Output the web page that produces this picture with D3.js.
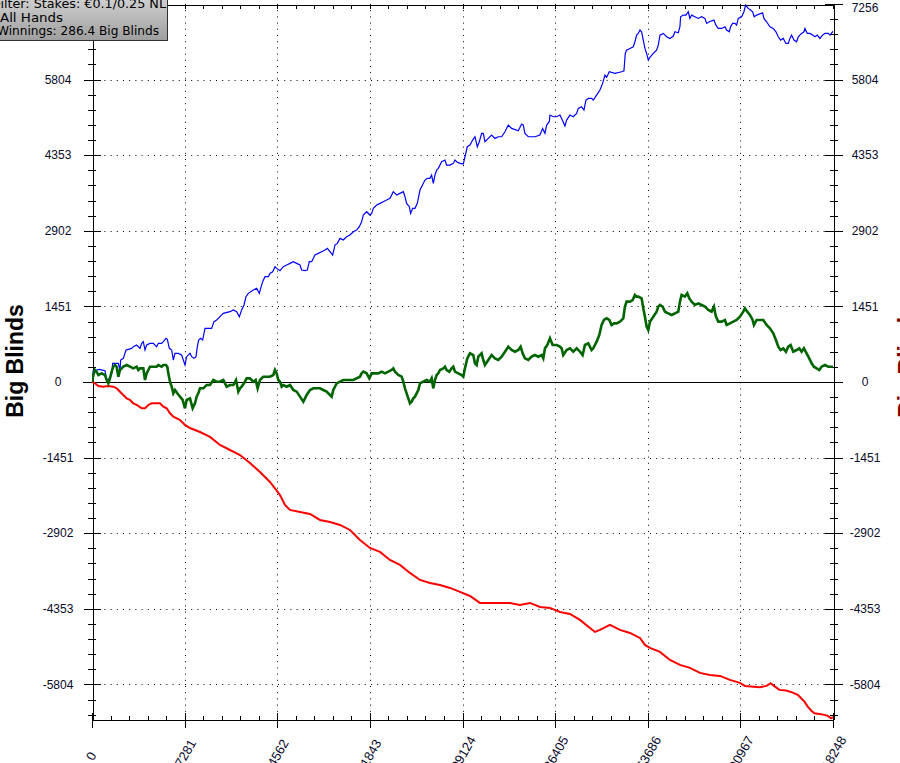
<!DOCTYPE html>
<html><head><meta charset="utf-8">
<script src="https://cdn.jsdelivr.net/npm/d3@7"></script>
<style>html,body{margin:0;padding:0;background:#fff;overflow:hidden}</style>
</head><body>
<svg id="c" width="900" height="763"></svg>
<script>
// ---------- DATA ----------
const xTickValues = [0, 27281, 54562, 81843, 109124, 136405, 163686, 190967, 218248];
const yTickValues = [-5804.8, -4353.6, -2902.4, -1451.2, 0, 1451.2, 2902.4, 4353.6, 5804.8, 7256];
const legendLines = ["Filter: Stakes: €0.1/0.25 NL", "All Hands", "Winnings: 286.4 Big Blinds"];
const axisTitle = "Big Blinds";

// [hands, big blinds]
const blueSeries = [[0,0],[393,230],[1374,230],[2160,243],[3829,218],[4320,38],[4810,38],[5792,166],[6087,358],[7755,358],[8246,230],[8443,422],[9228,454],[10013,614],[10701,627],[11682,646],[12173,678],[13155,710],[14137,646],[14627,742],[15118,774],[15609,614],[16100,710],[17082,742],[18063,742],[19045,678],[19536,742],[20518,742],[21008,774],[21794,838],[22186,819],[22775,646],[23463,614],[23954,422],[24444,550],[25426,550],[26408,518],[27389,326],[27880,486],[28862,550],[29353,486],[30040,454],[30629,486],[31022,678],[31414,806],[32003,838],[32592,806],[32985,934],[33280,1030],[35243,1030],[35930,1158],[36716,1190],[37697,1254],[38679,1318],[40642,1350],[41624,1382],[42606,1350],[43391,1254],[44078,1382],[44766,1478],[45355,1638],[46042,1702],[47514,1766],[48496,1798],[49281,1702],[49674,1798],[50263,1926],[50950,2021],[51932,2021],[52423,2085],[53208,2117],[53895,2213],[54386,2181],[55368,2137],[56350,2213],[57331,2245],[58313,2277],[59295,2309],[60276,2277],[61258,2245],[61749,2149],[62731,2137],[63418,2149],[64007,2309],[64694,2309],[65676,2437],[66657,2469],[67639,2501],[68621,2533],[69308,2565],[70093,2501],[70879,2437],[71566,2629],[72253,2661],[73039,2757],[74020,2725],[75002,2789],[75984,2821],[76965,2885],[77947,2917],[78732,2981],[79420,3077],[79910,3205],[80892,3269],[81874,3205],[82365,3237],[82856,3333],[83837,3397],[84819,3429],[85801,3461],[86782,3493],[87764,3525],[88746,3653],[89727,3589],[90709,3621],[91691,3653],[92182,3557],[92673,3429],[93458,3365],[93851,3237],[94440,3333],[95127,3333],[95814,3429],[96599,3685],[97090,3749],[98072,3877],[98759,3909],[99544,3909],[100035,3973],[100526,3813],[101017,3973],[101508,4069],[101999,4101],[102980,4228],[103962,4260],[104453,4164],[105435,4164],[106416,4196],[106907,4260],[107398,4228],[108380,4196],[109358,4184],[109849,4324],[110536,4516],[111321,4548],[112107,4644],[112794,4708],[113481,4516],[114070,4612],[114757,4772],[115248,4772],[115739,4612],[116720,4676],[117702,4740],[118684,4676],[119666,4708],[120647,4708],[121629,4804],[122611,4932],[123592,4868],[125556,4823],[126537,4951],[127028,4932],[127519,4772],[128501,4708],[130464,4708],[131937,4740],[132722,4868],[133409,4772],[133900,4932],[134686,4996],[134882,5124],[135864,5092],[136845,5092],[137827,5124],[138318,5060],[139300,4913],[139790,5028],[140772,5124],[141754,5092],[142736,5156],[143226,5252],[144208,5284],[144895,5220],[145484,5412],[146171,5444],[147153,5444],[147644,5412],[148626,5508],[149607,5604],[150393,5732],[151080,5892],[151571,5847],[152356,5956],[154025,5924],[155989,5956],[156676,5975],[157068,6307],[157461,6371],[158443,6403],[159424,6435],[159915,6531],[160406,6659],[160897,6691],[161388,6755],[161879,6723],[162370,6563],[162860,6403],[163351,6307],[163842,6180],[164333,6231],[165315,6307],[166296,6371],[166787,6467],[167278,6659],[168260,6691],[169241,6627],[170223,6595],[171205,6640],[171696,6723],[172677,6704],[173168,6819],[173365,7011],[174150,7043],[174935,7043],[175622,7107],[176113,6979],[176604,7043],[177586,7011],[178568,6979],[179549,7011],[180531,6979],[181022,6883],[181807,6915],[183182,6947],[183771,6851],[184458,6787],[185439,6787],[186421,6819],[186912,6755],[187697,6723],[188090,6819],[188679,6883],[189366,6883],[189857,6851],[190348,6979],[191330,7011],[192017,7107],[192508,7235],[193293,7171],[193980,7139],[194570,7107],[195060,7011],[195747,7043],[197514,7088],[197907,6979],[198692,6915],[199674,6819],[200656,6787],[201441,6723],[202128,6627],[202815,6563],[203601,6595],[204386,6499],[205073,6499],[205564,6595],[206055,6659],[206742,6563],[207528,6531],[208018,6627],[208999,6691],[209687,6723],[209981,6787],[210669,6691],[211454,6691],[212239,6659],[212926,6627],[213613,6659],[214399,6595],[215184,6659],[215871,6691],[216853,6691],[217345,6659],[218130,6723],[218248,6720]];

const greenSeries = [[0,0],[393,134],[884,230],[1374,198],[1865,134],[2847,166],[3829,134],[4320,38],[4810,-26],[5301,70],[5792,198],[6283,294],[6774,326],[7265,294],[7756,102],[8246,230],[8737,262],[9228,294],[10210,326],[11191,294],[12173,262],[13155,294],[13646,230],[14137,262],[15118,262],[15609,38],[16100,166],[16591,230],[17082,294],[18063,294],[19045,294],[19536,326],[20518,294],[21008,326],[21794,326],[22186,294],[22480,166],[22971,6],[23463,-90],[23954,-217],[24444,-153],[25131,-217],[25917,-281],[26702,-345],[27389,-505],[27880,-345],[28862,-313],[29647,-505],[30334,-409],[30825,-281],[31316,-217],[31807,-121],[32789,-121],[33771,-58],[34752,-58],[35734,38],[36716,6],[37697,6],[38679,38],[39661,-90],[40642,-58],[41624,-58],[42409,38],[43097,-185],[43588,-121],[44078,-90],[44766,-26],[45551,70],[46533,70],[47514,6],[48201,38],[48790,-121],[49477,38],[50459,102],[52423,102],[53405,134],[53895,230],[54386,166],[54877,38],[55368,6],[55859,-90],[56350,-58],[57331,-90],[58313,-58],[59295,-153],[60276,-185],[61258,-281],[62240,-377],[62731,-313],[63222,-249],[64203,-153],[65185,-121],[67148,-121],[68130,-153],[69112,-185],[70093,-249],[70584,-281],[71075,-153],[72057,-26],[73039,6],[74020,38],[76965,38],[77947,70],[78929,102],[79420,166],[79910,198],[80892,166],[81677,70],[82365,166],[84328,166],[85310,198],[86292,166],[87273,198],[88255,230],[88746,262],[89237,198],[90218,134],[91200,102],[91691,6],[92182,-121],[92673,-217],[93164,-313],[93655,-409],[94145,-377],[94636,-313],[95127,-281],[95618,-217],[96109,-153],[96599,-26],[97581,6],[98563,38],[99544,6],[100035,70],[100526,-121],[101017,38],[101508,134],[101999,166],[102490,230],[103472,262],[103962,294],[104453,230],[105239,198],[105926,262],[106416,294],[106907,198],[107889,166],[108871,134],[109358,102],[109849,262],[110536,454],[111321,550],[112303,518],[112794,358],[113285,326],[113775,486],[114757,550],[115248,422],[115739,326],[116720,422],[117702,518],[118684,454],[119666,422],[120647,486],[121629,582],[122611,678],[123592,614],[124574,582],[125556,614],[126243,678],[126832,550],[127519,454],[128501,422],[129482,486],[130464,518],[131446,486],[132428,518],[132919,454],[133409,646],[134097,710],[134882,838],[135667,710],[136845,710],[137827,678],[138318,646],[138809,518],[139790,614],[140772,646],[141754,582],[142736,646],[143717,582],[144503,518],[145190,710],[146171,742],[147153,614],[147644,646],[148626,774],[149411,902],[150098,1094],[150785,1190],[151571,1222],[152356,1190],[153043,1094],[153730,1126],[154515,1126],[155497,1158],[156479,1222],[156970,1446],[157461,1542],[158443,1542],[159228,1574],[159915,1670],[160406,1638],[160897,1638],[161879,1606],[162370,1414],[162860,1254],[163351,1062],[163842,998],[164333,1158],[165315,1254],[166296,1350],[166787,1446],[167278,1478],[168064,1446],[168751,1350],[169733,1318],[170714,1286],[171696,1318],[172677,1350],[173168,1542],[173659,1670],[174641,1638],[175328,1702],[175917,1606],[176604,1542],[177586,1478],[178568,1510],[179549,1478],[180531,1446],[181513,1382],[182494,1350],[183182,1446],[183771,1254],[184458,1158],[185439,1158],[186421,1190],[186912,1094],[187894,1126],[188876,1158],[189857,1190],[190839,1254],[191821,1350],[192311,1414],[192999,1350],[193784,1286],[194570,1190],[194962,1094],[195747,1190],[197710,1190],[198692,1094],[199674,1030],[200656,934],[201441,806],[202128,678],[202815,614],[203601,646],[204386,582],[205073,678],[205760,710],[206546,582],[207528,614],[208313,646],[208999,582],[209687,646],[210472,550],[211257,454],[211944,358],[212632,294],[213417,262],[214202,230],[214889,294],[215871,326],[216853,294],[217835,294],[218248,286]];

const redSeries = [[0,0],[884,-25],[1855,-77],[3328,-90],[4800,-77],[6273,-90],[7274,-121],[8246,-186],[9218,-249],[10219,-313],[11191,-345],[12163,-409],[13164,-441],[14637,-505],[15609,-505],[16580,-441],[17582,-409],[20026,-409],[20998,-474],[21999,-505],[22971,-601],[23943,-666],[24944,-697],[25916,-729],[27389,-825],[28861,-883],[31806,-960],[34751,-1055],[37696,-1209],[40641,-1305],[43586,-1401],[46531,-1554],[49476,-1727],[52421,-1919],[55366,-2168],[56839,-2360],[58311,-2456],[61256,-2495],[64201,-2533],[67146,-2648],[70091,-2687],[73036,-2744],[75981,-2840],[78926,-3032],[81871,-3186],[84816,-3262],[87761,-3416],[90706,-3512],[93651,-3665],[96596,-3800],[99541,-3857],[102486,-3896],[105431,-3953],[108376,-4030],[111321,-4107],[114266,-4241],[117211,-4241],[120156,-4241],[123101,-4241],[126046,-4279],[128991,-4241],[131936,-4318],[134881,-4337],[137826,-4414],[140771,-4452],[143716,-4567],[146661,-4721],[148134,-4798],[149606,-4759],[152551,-4663],[155496,-4759],[158441,-4817],[161386,-4913],[162859,-5047],[164331,-5105],[167276,-5181],[170221,-5335],[173166,-5431],[176111,-5488],[179056,-5584],[182001,-5623],[184946,-5642],[187891,-5719],[190836,-5776],[192309,-5834],[196726,-5859],[198699,-5834],[199877,-5782],[201145,-5847],[202472,-5910],[204445,-5924],[206389,-5962],[207862,-6006],[208863,-6070],[209835,-6135],[210807,-6231],[211808,-6308],[212780,-6358],[214253,-6371],[215725,-6390],[216697,-6409],[217698,-6454],[218248,-6434]];

// ---------- CHART ----------
const svg = d3.select("#c");
const L = 92, R = 833, T = 4, B = 719;
const x = d3.scaleLinear().domain([0, 218248]).range([L, R]);
const y = d3.scaleLinear().domain([-6469, 7256]).range([B, T]);
const FONT = "'Liberation Sans', Arial, sans-serif";

// minor ticks (5 intervals between majors)
const xMinor = [], yMinor = [];
for (let i = 0; i < xTickValues.length - 1; i++)
  for (let k = 1; k < 5; k++) xMinor.push(xTickValues[i] + (xTickValues[i+1] - xTickValues[i]) * k / 5);
const yStep = yTickValues[5] - yTickValues[4];
for (let i = -24; i < 25; i++) {
  if (i % 5 === 0) continue;
  const v = i * yStep / 5;
  if (v > -6469 && v < 7256) yMinor.push(v);
}

const grid = svg.append("g").attr("stroke", "#000").attr("stroke-width", 1).attr("stroke-dasharray", "1,5.2");
yTickValues.filter(v => v !== 0 && v !== 7256).forEach(v => {
  const yy = Math.round(y(v)) + 0.5;
  grid.append("line").attr("x1", L).attr("x2", R).attr("y1", yy).attr("y2", yy);
});
xTickValues.slice(1, -1).forEach(v => {
  const xx = Math.round(x(v)) + 0.5;
  grid.append("line").attr("x1", xx).attr("x2", xx).attr("y1", T).attr("y2", B);
});

function crisp(g) { g.attr("shape-rendering", "crispEdges"); g.selectAll("path,line").attr("stroke", "#000"); }
function ax(gen, tx, ty, vals, size) {
  svg.append("g").attr("transform", `translate(${tx},${ty})`)
    .call(gen.tickValues(vals).tickSize(size).tickSizeOuter(0).tickFormat(""))
    .call(crisp);
}
// left axis
ax(d3.axisLeft(y), L + 0.5, 0, yTickValues, 9);
ax(d3.axisRight(y), L + 0.5, 0, yTickValues, 8);
ax(d3.axisLeft(y), L + 0.5, 0, yMinor, 5);
ax(d3.axisRight(y), L + 0.5, 0, yMinor, 3);
// right axis
ax(d3.axisLeft(y), R + 0.5, 0, yTickValues, 9);
ax(d3.axisRight(y), R + 0.5, 0, yTickValues, 9);
ax(d3.axisLeft(y), R + 0.5, 0, yMinor, 4);
ax(d3.axisRight(y), R + 0.5, 0, yMinor, 4);
// bottom axis
ax(d3.axisBottom(x), 0, B + 0.5, xTickValues, 8);
ax(d3.axisTop(x), 0, B + 0.5, xTickValues, 7);
ax(d3.axisTop(x), 0, B + 0.5, xMinor, 4);
// top frame
ax(d3.axisBottom(x), 0, T + 0.5, xTickValues.concat(xMinor), 4);

// zero line
svg.append("line").attr("x1", L - 9).attr("x2", R + 9)
  .attr("y1", Math.round(y(0)) + 0.5).attr("y2", Math.round(y(0)) + 0.5)
  .attr("stroke", "#000").attr("shape-rendering", "crispEdges");

// y tick labels (left 7256 label lies under the legend box in the original)
const fmt = d => String(Math.trunc(d));
svg.append("g").selectAll("text").data(yTickValues.filter(v => v !== 7256)).join("text")
  .attr("x", 58).attr("y", d => y(d)).attr("dy", "0.35em")
  .attr("text-anchor", "middle").attr("font-family", FONT).attr("font-size", 12)
  .attr("fill", "#0a0a2a").text(fmt);
svg.append("g").selectAll("text").data(yTickValues).join("text")
  .attr("x", 865).attr("y", d => Math.max(y(d), 8)).attr("dy", "0.35em")
  .attr("text-anchor", "middle").attr("font-family", FONT).attr("font-size", 12)
  .attr("fill", "#0a0a2a").text(fmt);
// x tick labels
svg.append("g").selectAll("text").data(xTickValues).join("text")
  .attr("transform", d => `translate(${x(d) - 1},756) rotate(-60)`)
  .attr("dy", "0.35em").attr("text-anchor", "middle")
  .attr("font-family", FONT).attr("font-size", 13).attr("fill", "#0a0a2a")
  .text(d => String(d));

// series
const line = d3.line().x(d => x(d[0])).y(d => y(d[1]));
svg.append("clipPath").attr("id", "pc").append("rect")
  .attr("x", L).attr("y", T - 2).attr("width", R - L + 1).attr("height", B - T + 3);
const plot = svg.append("g").attr("clip-path", "url(#pc)").attr("fill", "none");
plot.append("path").datum(blueSeries).attr("d", line).attr("stroke", "#0000ff").attr("stroke-width", 1.2);
plot.append("path").datum(redSeries).attr("d", line).attr("stroke", "#ff0000").attr("stroke-width", 2);
plot.append("path").datum(greenSeries).attr("d", line).attr("stroke", "#006400").attr("stroke-width", 2.6);

// axis titles
svg.append("text").attr("transform", "translate(23,361) rotate(-90)")
  .attr("text-anchor", "middle").attr("font-family", FONT).attr("font-weight", "bold")
  .attr("font-size", 23).attr("fill", "#000").text(axisTitle);
svg.append("text").attr("transform", "translate(915,361) rotate(-90)")
  .attr("text-anchor", "middle").attr("font-family", FONT).attr("font-weight", "bold")
  .attr("font-size", 23).attr("fill", "#800000").text(axisTitle);

// legend box
const defs = svg.append("defs");
const gr = defs.append("linearGradient").attr("id", "lg").attr("x1", 0).attr("y1", 0).attr("x2", 0).attr("y2", 1);
gr.append("stop").attr("offset", 0).attr("stop-color", "#dadada");
gr.append("stop").attr("offset", 1).attr("stop-color", "#9e9e9e");
svg.append("rect").attr("x", -10).attr("y", -10).attr("width", 177.5).attr("height", 50.5)
  .attr("fill", "url(#lg)").attr("stroke", "#303030").attr("stroke-width", 1);
svg.append("g").selectAll("text").data(legendLines).join("text")
  .attr("x", (d, i) => [-6, 0, -3][i]).attr("y", (d, i) => 8 + i * 13.5)
  .attr("textLength", (d, i) => [172, 63, 162][i]).attr("lengthAdjust", "spacingAndGlyphs")
  .attr("font-family", "'DejaVu Sans', Verdana, sans-serif").attr("font-size", 12)
  .attr("fill", "#000").text(d => d);
</script>
</body></html>
